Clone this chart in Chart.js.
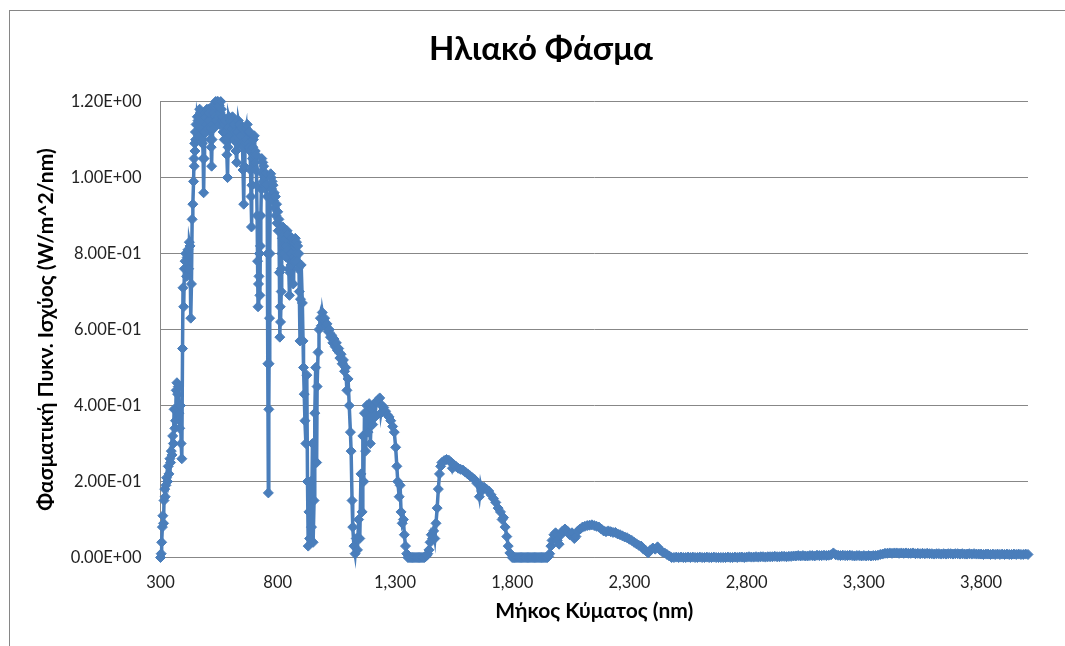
<!DOCTYPE html>
<html><head><meta charset="utf-8">
<script src="https://cdn.jsdelivr.net/npm/chart.js@4.4.1/dist/chart.umd.min.js"></script>
<style>html,body{margin:0;padding:0;background:#fff;overflow:hidden}#wrap{width:1065px;height:646px}</style>
</head><body><div id="wrap"><canvas id="c" width="1065" height="646"></canvas></div>
<script>
const chartTitle = 'Ηλιακό Φάσμα';
const xAxisTitle = 'Μήκος Κύματος (nm)';
const yAxisTitle = 'Φασματική Πυκν. Ισχύος (W/m^2/nm)';
const xTickValues = [300, 800, 1300, 1800, 2300, 2800, 3300, 3800];
const xTickLabels = ['300', '800', '1,300', '1,800', '2,300', '2,800', '3,300', '3,800'];
const yTickValues = [0, 0.2, 0.4, 0.6, 0.8, 1.0, 1.2];
const yTickLabels = ['0.00E+00', '2.00E-01', '4.00E-01', '6.00E-01', '8.00E-01', '1.00E+00', '1.20E+00'];

const wavelengths = [
300,303,305,308,310,313,315,318,320,323,326,330,333,336,340,343,346,349,352,355,358,361,364,367,370,373,376,379,382,385,388,391,394,396,399,
402,405,408,411,414,417,420,423,426,429,432,435,438,
441,443,444,446,447,449,450,452,455,457,460,462,465,467,470,472,475,478,480,482,484,486,488,490,492,494,496,498,
500,502,505,507,510,512,514,516,518,520,522,524,526,528,530,532,535,537,540,542,545,547,550,552,555,557,560,562,565,567,570,572,575,577,580,583,586,588,590,592,595,597,
600,602,605,607,610,612,615,617,620,622,625,627,630,632,635,637,640,642,645,647,650,652,655,657,660,662,665,667,670,672,675,677,680,682,684,686,688,690,692,694,696,698,
700,702,704,706,708,710,712,714,716,718,720,722,724,726,728,730,732,734,736,738,740,742,745,747,750,752,755,757,758,760,762,763,765,767,768,770,
772,774,776,778,780,782,785,787,790,792,795,797,
800,802,805,807,809,811,812,815,816,818,820,822,824,826,828,830,832,835,837,840,842,845,847,850,852,855,857,860,863,866,868,870,872,875,877,880,882,885,887,890,892,895,897,
900,905,908,910,913,916,920,924,927,930,933,936,940,944,948,951,955,958,962,966,968,972,976,982,986,990,995,
1000,1005,1010,1015,1020,1025,1030,1035,1040,1045,1050,1055,1060,1065,1070,1075,1080,1085,1090,1095,1100,1105,1110,1113,1117,1120,1125,1130,1135,1140,1145,1150,1155,1160,1163,1167,1170,1175,1180,1185,1190,1195,
1200,1205,1210,1215,1220,1228,1235,1240,1245,1252,1260,1268,1275,1282,1290,1297,1303,1308,1312,1318,1322,1326,1331,1336,1340,1345,1350,
1355,1360,1365,1370,1375,1380,1385,1390,1395,1400,1405,1410,1415,1420,1425,1430,1435,
1440,1445,1450,1455,1460,1465,1470,1475,1480,1485,1490,1495,1500,1510,1520,1530,1540,1545,1550,1560,1570,1580,1590,
1600,1610,1620,1630,1640,1650,1660,1665,1670,1680,1690,1700,1710,1720,1730,1740,1750,1757,1763,1770,1777,1783,1790,
1800,1805,1810,1815,1820,1825,1830,1835,1840,1845,1850,1855,1860,1865,1870,1875,1880,1885,1890,1895,1900,1905,1910,1915,1920,1925,1930,1935,1940,1945,1950,1955,
1960,1965,1970,1978,1985,1992,
2000,2008,2015,2025,2035,2045,2055,2065,2072,2080,2090,2100,2110,2120,2130,2140,2150,2160,2170,2180,2190,
2200,2210,2220,2230,2240,2250,2260,2270,2280,2290,2300,2310,2320,2330,2340,2350,2360,2370,2380,2390,
2400,2410,2420,2430,2440,2450,2460,2470,2480,2490,
2500,2510,2520,2530,2540,2550,2560,2570,2580,2590,
2600,2610,2620,2630,2640,2650,2660,2670,2680,2690,
2700,2710,2720,2730,2740,2750,2760,2770,2780,2790,
2800,2810,2820,2830,2840,2850,2860,2870,2880,2890,
2900,2910,2920,2930,2940,2950,2960,2970,2980,2990,
3000,3010,3020,3030,3040,3050,3060,3070,3080,3090,
3100,3110,3120,3130,3140,3150,3160,3170,3180,3190,
3200,3210,3220,3230,3240,3250,3260,3270,3280,3290,
3300,3310,3320,3330,3340,3350,3360,3370,3380,3390,
3400,3410,3420,3430,3440,3450,3460,3470,3480,3490,
3500,3510,3520,3530,3540,3550,3560,3570,3580,3590,
3600,3610,3620,3630,3640,3650,3660,3670,3680,3690,
3700,3710,3720,3730,3740,3750,3760,3770,3780,3790,
3800,3810,3820,3830,3840,3850,3860,3870,3880,3890,
3900,3910,3920,3930,3940,3950,3960,3970,3980,3990,
4000
];

const irradiance = [
0.00,0.01,0.04,0.08,0.11,0.09,0.15,0.18,0.16,0.19,0.21,0.20,0.24,0.22,0.26,0.25,0.28,0.27,0.32,0.30,0.39,0.34,0.36,0.44,0.46,0.43,0.45,0.38,0.34,0.40,0.30,0.26,0.55,0.71,0.66,
0.76,0.78,0.80,0.74,0.79,0.81,0.76,0.83,0.82,0.63,0.72,0.89,0.93,
0.99,1.05,1.03,1.09,1.07,1.12,1.10,1.14,1.12,1.16,1.15,1.11,1.16,1.18,1.17,1.13,1.15,1.09,1.10,1.05,0.96,1.05,1.12,1.17,1.16,1.12,1.14,1.18,
1.17,1.13,1.18,1.15,1.17,1.10,1.13,1.08,1.03,1.10,1.14,1.19,1.17,1.13,1.19,1.16,1.20,1.15,1.19,1.20,1.20,1.16,1.19,1.14,1.17,1.20,1.18,1.15,1.16,1.12,1.14,1.10,1.15,1.12,1.10,1.06,1.00,1.08,1.13,1.16,1.15,1.11,
1.15,1.12,1.13,1.16,1.15,1.10,1.14,1.12,1.10,1.07,1.04,1.09,1.12,1.15,1.14,1.10,1.14,1.11,1.13,1.09,1.08,1.02,0.93,1.03,1.09,1.12,1.13,1.10,1.14,1.09,1.12,1.08,1.12,1.07,1.02,0.95,0.87,0.98,1.05,1.08,1.10,1.06,
1.11,1.04,1.07,1.02,1.06,0.98,0.90,0.78,0.66,0.72,0.74,0.80,0.69,0.82,0.90,0.97,1.05,1.01,1.04,0.99,1.03,0.98,1.00,0.97,1.01,0.98,0.95,0.80,0.51,0.17,0.39,0.51,0.63,0.80,0.95,1.01,
1.00,0.97,0.99,0.95,0.98,0.94,0.96,0.92,0.95,0.90,0.93,0.88,
0.91,0.86,0.89,0.75,0.58,0.66,0.62,0.70,0.76,0.80,0.84,0.87,0.82,0.85,0.80,0.86,0.82,0.84,0.79,0.86,0.81,0.85,0.76,0.69,0.75,0.80,0.77,0.84,0.78,0.72,0.79,0.83,0.78,0.84,0.80,0.83,0.78,0.82,0.76,0.80,0.70,0.57,0.68,
0.77,0.67,0.57,0.50,0.43,0.36,0.30,0.48,0.20,0.03,0.12,0.05,0.20,0.08,0.30,0.04,0.15,0.38,0.50,0.25,0.45,0.54,0.60,0.63,0.61,0.645,0.625,
0.63,0.61,0.615,0.595,0.60,0.58,0.585,0.565,0.575,0.555,0.565,0.545,0.55,0.525,0.535,0.51,0.52,0.49,0.50,0.44,0.47,0.40,0.33,0.28,0.15,0.08,0.03,0.01,0.05,0.02,0.10,0.05,0.22,0.12,0.32,0.20,0.38,0.28,0.40,0.33,0.405,0.30,
0.39,0.35,0.40,0.37,0.41,0.415,0.42,0.38,0.40,0.395,0.385,0.375,0.37,0.36,0.345,0.33,0.29,0.24,0.20,0.16,0.19,0.12,0.09,0.10,0.06,0.03,0.01,
0,0,0,0,0,0,0,0,0,0,0,0,0,0,0,0.002,0.005,
0.01,0.02,0.04,0.06,0.05,0.07,0.05,0.09,0.13,0.18,0.22,0.24,0.25,0.255,0.258,0.256,0.25,0.235,0.245,0.24,0.235,0.232,0.23,
0.225,0.22,0.215,0.21,0.205,0.195,0.16,0.19,0.175,0.185,0.18,0.175,0.165,0.155,0.145,0.13,0.12,0.10,0.105,0.08,0.055,0.03,0.012,
0,0,0,0,0,0,0,0,0,0,0,0,0,0,0,0,0,0,0,0,0,0,0,0,0,0,0,0,0,0,0,0.003,
0.01,0.03,0.045,0.06,0.065,0.045,
0.035,0.06,0.07,0.075,0.07,0.06,0.065,0.05,0.055,0.07,0.075,0.08,0.082,0.084,0.085,0.086,0.084,0.082,0.08,0.075,0.07,
0.068,0.07,0.068,0.066,0.066,0.062,0.06,0.057,0.054,0.052,0.048,0.045,0.04,0.036,0.032,0.03,0.022,0.018,0.012,0.02,
0.025,0.022,0.028,0.02,0.015,0.012,0.008,0.004,0,0,
0.001,0,0.001,0,0,0.001,0,0.001,0,0,
0.001,0,0,0.001,0,0,0.001,0,0,0,
0,0,0.001,0,0,0.001,0,0.001,0.001,0,
0.001,0.002,0.001,0.001,0.002,0.001,0.002,0.002,0.001,0.002,
0.002,0.002,0.003,0.002,0.002,0.003,0.003,0.002,0.003,0.003,
0.004,0.004,0.005,0.004,0.005,0.004,0.004,0.005,0.005,0.004,
0.006,0.005,0.005,0.006,0.005,0.006,0.007,0.012,0.007,0.006,
0.005,0.006,0.005,0.005,0.006,0.005,0.004,0.005,0.005,0.004,
0.005,0.004,0.005,0.004,0.005,0.005,0.006,0.008,0.009,0.011,
0.011,0.012,0.011,0.012,0.012,0.011,0.012,0.011,0.012,0.011,
0.011,0.012,0.010,0.011,0.010,0.011,0.010,0.011,0.010,0.010,
0.009,0.010,0.010,0.009,0.010,0.009,0.010,0.010,0.009,0.010,
0.010,0.009,0.010,0.009,0.009,0.010,0.009,0.010,0.009,0.009,
0.009,0.008,0.009,0.009,0.008,0.009,0.008,0.009,0.008,0.009,
0.008,0.009,0.008,0.008,0.009,0.008,0.009,0.008,0.008,0.009,
0.008
];

const FONT = "Lato, 'Noto Sans', 'Open Sans', sans-serif";
const SERIES_COLOR = '#4A7EBB';
const GRID_COLOR = '#878787';

const framePlugin = {
  id: 'frame',
  beforeDraw(chart) {
    const ctx = chart.ctx;
    ctx.save();
    ctx.fillStyle = '#ffffff';
    ctx.fillRect(0, 0, chart.width, chart.height);
    ctx.strokeStyle = '#868686';
    ctx.lineWidth = 1;
    ctx.strokeRect(9.5, 10.5, 1200, 800);
    ctx.restore();
  }
};

new Chart(document.getElementById('c'), {
  type: 'scatter',
  data: {
    datasets: [{
      data: wavelengths.map((w, i) => ({ x: w, y: irradiance[i] })),
      showLine: true,
      borderColor: SERIES_COLOR,
      backgroundColor: SERIES_COLOR,
      borderWidth: 3.5,
      pointStyle: 'rectRot',
      pointRadius: 5,
      pointHoverRadius: 5,
      pointBorderWidth: 1,
      tension: 0,
      clip: false
    }]
  },
  options: {
    responsive: false,
    animation: false,
    devicePixelRatio: 1,
    events: [],
    layout: { padding: { left: 17, right: 0, top: 0, bottom: 0 } },
    plugins: {
      legend: { display: false },
      tooltip: { enabled: false },
      title: {
        display: true, text: chartTitle, color: '#000',
        font: { family: FONT, size: 33, weight: 'bold', lineHeight: 1.2 },
        padding: { top: 30, bottom: 32 }
      }
    },
    scales: {
      x: {
        type: 'linear', min: 300, max: 4000,
        afterBuildTicks: s => { s.ticks = xTickValues.map(v => ({ value: v })); },
        afterFit: s => { s.height = 88.5; },
        ticks: {
          callback: v => xTickLabels[xTickValues.indexOf(v)],
          padding: 15, color: '#222', maxRotation: 0, autoSkip: false,
          font: { family: FONT, size: 16.5 }
        },
        grid: { display: false, drawTicks: false },
        border: { display: true, color: GRID_COLOR, width: 1 },
        title: {
          display: true, text: xAxisTitle, color: '#000',
          font: { family: FONT, size: 21, weight: 'bold', lineHeight: 1.2 },
          padding: { top: 0, bottom: 22 }
        }
      },
      y: {
        type: 'linear', min: 0, max: 1.2,
        afterBuildTicks: s => { s.ticks = yTickValues.map(v => ({ value: v })); },
        afterFit: s => { s.width = 143.5; },
        ticks: {
          callback: (v, i) => yTickLabels[i],
          padding: 19, color: '#222',
          font: { family: FONT, size: 16.5 }
        },
        grid: { color: GRID_COLOR, drawTicks: false, lineWidth: 1 },
        border: { display: true, color: GRID_COLOR, width: 1 },
        title: {
          display: true, text: yAxisTitle, color: '#000',
          font: { family: FONT, size: 21, weight: 'bold', lineHeight: 1.2 },
          padding: { top: 17, bottom: 0 }
        }
      },
      y2: {
        position: 'right', display: true,
        afterFit: s => { s.width = 37; },
        ticks: { display: false },
        grid: { display: false, drawTicks: false },
        border: { display: false }
      }
    }
  },
  plugins: [framePlugin]
});
</script>
</body></html>
